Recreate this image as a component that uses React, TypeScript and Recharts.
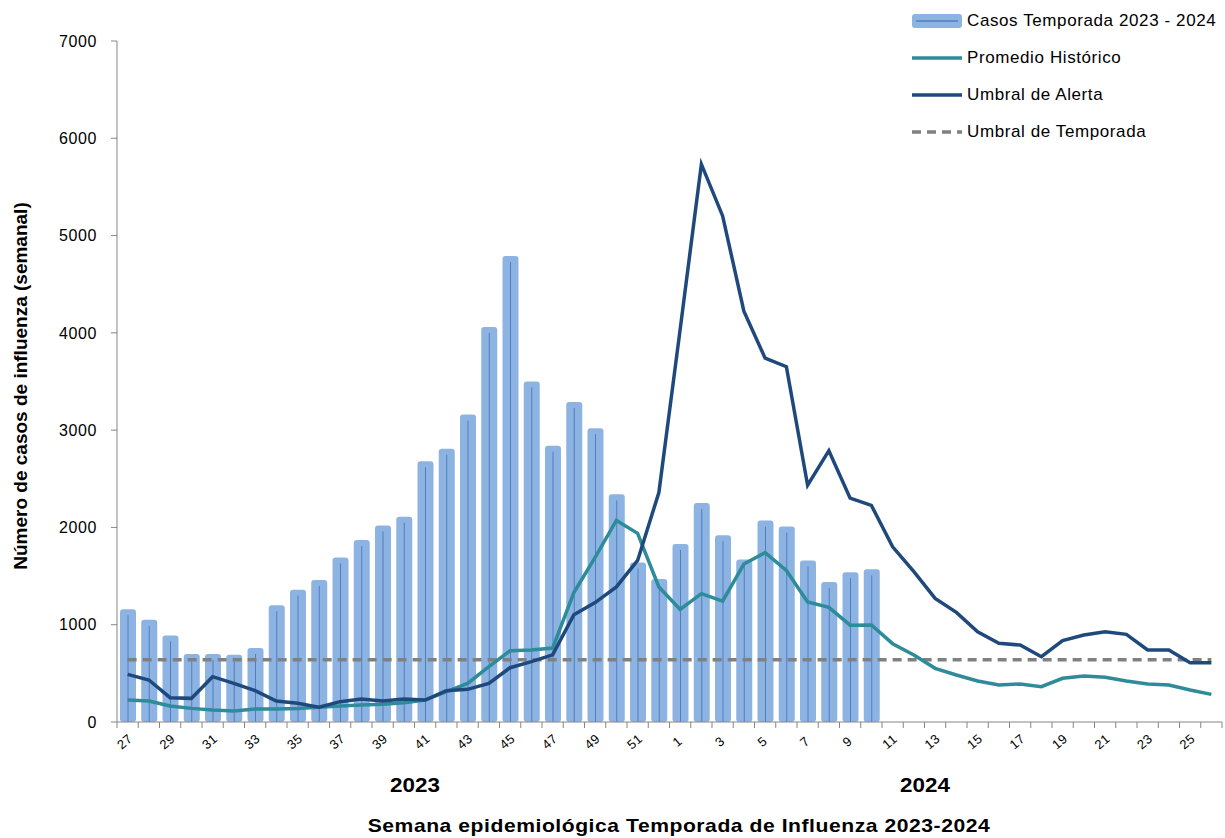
import React from 'react';
import { ComposedChart, Bar, Line, XAxis, YAxis } from 'recharts';

const weeks: string[] = [
  '27','28','29','30','31','32','33','34','35','36','37','38','39','40','41','42','43','44','45','46','47','48','49','50','51','52',
  '1','2','3','4','5','6','7','8','9','10','11','12','13','14','15','16','17','18','19','20','21','22','23','24','25','26',
];

const casos: (number | null)[] = [
  1160, 1050, 890, 700, 700, 690, 760, 1200, 1360, 1460, 1690, 1870, 2020, 2110, 2680, 2810, 3160, 4060, 4790, 3500, 2840, 3290, 3020, 2340, 1640, 1470,
  1830, 2250, 1920, 1670, 2070, 2010, 1660, 1440, 1540, 1570,
  null, null, null, null, null, null, null, null, null, null, null, null, null, null, null, null,
];

const promedio: number[] = [
  226, 216, 164, 140, 123, 113, 134, 134, 140, 151, 164, 175, 182, 199, 226, 312, 397, 569, 733, 740, 760, 1330, 1692, 2072, 1939, 1388,
  1158, 1319, 1243, 1624, 1741, 1558, 1234, 1178, 995, 997, 805, 689, 552, 483, 421, 380, 391, 363, 449, 473, 459, 421, 391, 380, 329, 284,
];

const alerta: number[] = [
  490, 432, 250, 243, 466, 397, 322, 216, 192, 151, 209, 236, 216, 236, 226, 322, 336, 397, 558, 620, 690, 1102, 1227, 1388, 1661, 2358,
  4033, 5734, 5202, 4223, 3740, 3652, 2434, 2789, 2301, 2227, 1800, 1545, 1271, 1127, 928, 809, 791, 671, 836, 894, 928, 901, 740, 740, 610, 610,
];

const umbralTemporada: number[] = weeks.map(() => 640);

const yTicks: number[] = [0, 1000, 2000, 3000, 4000, 5000, 6000, 7000];

const data = weeks.map((w, i) => ({
  week: w,
  casos: casos[i],
  promedio: promedio[i],
  alerta: alerta[i],
  temporada: umbralTemporada[i],
}));

const AXIS_Y = 722;
const STEP = 1105 / 52;
const FONT = '"Liberation Sans", Arial, sans-serif';

const BarShape = (props: any) => {
  const { x, y, width, height } = props;
  if (height == null || height <= 0) return null;
  return (
    <g>
      <rect x={x} y={y} width={width} height={height} rx={3} ry={3} fill="#8DB3E2" />
      <line x1={x + width / 2} x2={x + width / 2} y1={y + 6} y2={y + height} stroke="#4F7FC0" strokeWidth={1} />
    </g>
  );
};

const XTick = (props: any) => {
  const { x, payload } = props;
  const idx = payload.index;
  const tx = x;
  const ty = AXIS_Y + 23;
  return (
    <g>
      <line x1={x - STEP / 2} x2={x - STEP / 2} y1={AXIS_Y} y2={AXIS_Y + 6} stroke="#868686" />
      {idx === weeks.length - 1 && (
        <line x1={x + STEP / 2} x2={x + STEP / 2} y1={AXIS_Y} y2={AXIS_Y + 6} stroke="#868686" />
      )}
      {idx % 2 === 0 && (
        <text x={tx} y={ty} transform={`rotate(-40, ${tx}, ${ty})`} textAnchor="middle" fontSize={13} letterSpacing={0.5} fill="#000" fontFamily={FONT}>
          {payload.value}
        </text>
      )}
    </g>
  );
};

const legendItems = [
  { label: 'Casos Temporada 2023 - 2024', type: 'bar' },
  { label: 'Promedio Histórico', type: 'line', color: '#2E8B9A' },
  { label: 'Umbral de Alerta', type: 'line', color: '#1F497D' },
  { label: 'Umbral de Temporada', type: 'dash', color: '#808080' },
];

export default function App() {
  return (
    <div style={{ position: 'absolute', left: 0, top: 0, width: 1225, height: 838, background: '#fff', fontFamily: FONT }}>
      <ComposedChart width={1225} height={838} data={data} margin={{ top: 41, right: 3, bottom: 86, left: 57 }}>
        <XAxis
          dataKey="week"
          interval={0}
          height={30}
          tickLine={false}
          axisLine={{ stroke: '#868686' }}
          tick={<XTick />}
        />
        <YAxis
          domain={[0, 7000]}
          ticks={yTicks}
          width={60}
          tickSize={6}
          tickMargin={14}
          axisLine={{ stroke: '#868686' }}
          tickLine={{ stroke: '#868686' }}
          tick={{ fill: '#000', fontSize: 16, fontFamily: FONT, letterSpacing: 0.6 }}
          interval={0}
        />
        <Bar dataKey="casos" barSize={16} shape={<BarShape />} isAnimationActive={false} />
        <Line dataKey="temporada" stroke="#808080" strokeWidth={3.5} strokeDasharray="9 6" dot={false} isAnimationActive={false} />
        <Line dataKey="promedio" stroke="#2E8B9A" strokeWidth={3.5} dot={false} isAnimationActive={false} />
        <Line dataKey="alerta" stroke="#1F497D" strokeWidth={3.5} dot={false} isAnimationActive={false} />
      </ComposedChart>

      <div style={{ position: 'absolute', left: 21, top: 386, transform: 'translate(-50%, -50%) rotate(-90deg)', whiteSpace: 'nowrap', fontWeight: 'bold', fontSize: 19, color: '#000' }}>
        Número de casos de influenza (semanal)
      </div>
      <div style={{ position: 'absolute', left: 415, top: 785, transform: 'translate(-50%, -50%) scaleX(1.12)', fontWeight: 'bold', fontSize: 20, color: '#000' }}>
        2023
      </div>
      <div style={{ position: 'absolute', left: 925, top: 785, transform: 'translate(-50%, -50%) scaleX(1.12)', fontWeight: 'bold', fontSize: 20, color: '#000' }}>
        2024
      </div>
      <div style={{ position: 'absolute', left: 679, top: 826, transform: 'translate(-50%, -50%) scaleX(1.11)', whiteSpace: 'nowrap', fontWeight: 'bold', fontSize: 19, letterSpacing: 0.5, color: '#000' }}>
        Semana epidemiológica Temporada de Influenza 2023-2024
      </div>

      <div style={{ position: 'absolute', left: 910, top: 2 }}>
        {legendItems.map((it) => (
          <div key={it.label} style={{ display: 'flex', alignItems: 'center', height: 37 }}>
            <svg width={54} height={16} style={{ marginRight: 3 }}>
              {it.type === 'bar' && (
                <g>
                  <rect x={2} y={1} width={50} height={14} rx={3} fill="#8DB3E2" />
                  <line x1={6} x2={48} y1={8} y2={8} stroke="#4F7FC0" strokeWidth={1.5} />
                </g>
              )}
              {it.type === 'line' && <line x1={2} x2={52} y1={8} y2={8} stroke={it.color} strokeWidth={3.5} />}
              {it.type === 'dash' && <line x1={2} x2={52} y1={8} y2={8} stroke={it.color} strokeWidth={3.5} strokeDasharray="9 6" />}
            </svg>
            <span style={{ fontSize: 17, color: '#000', letterSpacing: 0.6, whiteSpace: 'nowrap' }}>{it.label}</span>
          </div>
        ))}
      </div>
    </div>
  );
}
